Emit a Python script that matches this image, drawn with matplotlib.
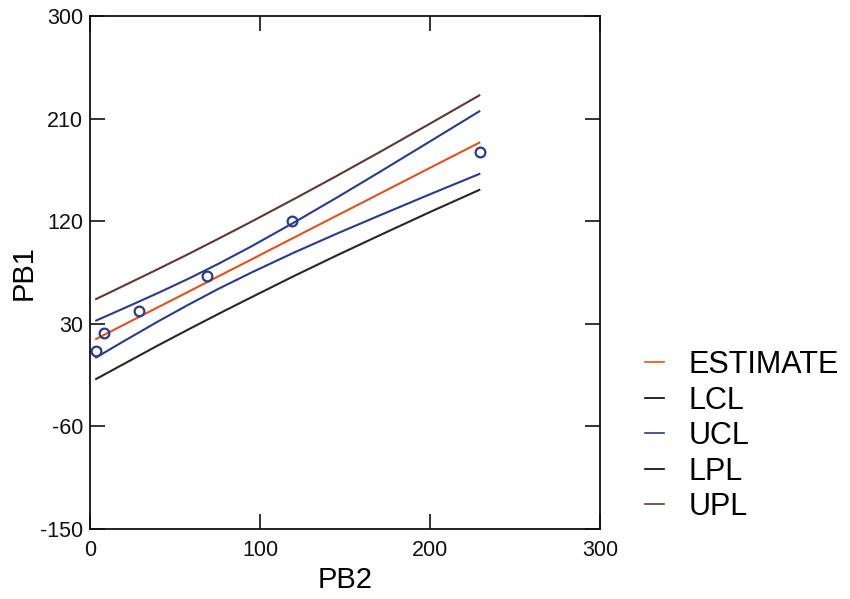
import matplotlib
matplotlib.use("Agg")
import matplotlib.pyplot as plt
from matplotlib.lines import Line2D

plt.rcParams['font.family'] = ['Liberation Sans', 'DejaVu Sans']
plt.rcParams['axes.unicode_minus'] = False

# observed pairs
pb2 = [3.5, 8.2, 28.8, 68.8, 118.8, 229.4]
pb1 = [6.0, 21.7, 41.0, 71.7, 120.8, 181.2]

# fitted line with confidence / prediction limits, sampled along PB2
fit_x = [3.6, 20, 40, 58, 76, 95, 120, 145, 170, 200, 229]
estimate = [16.8, 29.4, 44.7, 58.4, 72.2, 86.7, 105.9, 125.0, 144.1, 167.1, 189.2]
ucl = [33.0, 43.8, 57.2, 69.8, 83.2, 98.2, 119.1, 140.8, 163.1, 190.3, 216.7]
lcl = [0.6, 15.0, 32.2, 47.0, 61.2, 75.2, 92.7, 109.2, 125.1, 143.9, 161.7]
upl = [51.9, 63.7, 78.2, 91.5, 105.2, 119.9, 139.7, 159.9, 180.6, 205.9, 230.7]
lpl = [-18.3, -5.0, 11.2, 25.3, 39.2, 53.5, 72.1, 90.1, 107.6, 128.3, 147.7]

x_ticks = [0, 100, 200, 300]
y_ticks = [-150, -60, 30, 120, 210, 300]

c_est = '#e2521f'
c_cl = '#2a3c88'
c_upl = '#5c3a30'
c_lpl = '#2e2420'

fig = plt.figure(figsize=(8.5, 5.99), dpi=100)
ax = fig.add_axes([0.1059, 0.1169, 0.6, 0.8556])

ax.plot(fit_x, upl, color=c_upl, lw=1.5)
ax.plot(fit_x, ucl, color=c_cl, lw=1.5)
ax.plot(fit_x, estimate, color=c_est, lw=1.5)
ax.plot(fit_x, lcl, color=c_cl, lw=1.5)
ax.plot(fit_x, lpl, color=c_lpl, lw=1.5)
ax.plot(pb2, pb1, 'o', ms=7, mfc='none', mec=c_cl, mew=1.6)

ax.set_xlim(0, 300)
ax.set_ylim(-150, 300)
ax.set_xticks(x_ticks)
ax.set_yticks(y_ticks)
ax.tick_params(direction='in', length=11, width=1.2, top=True, right=True,
               labelsize=15.5, colors='#111111')
ax.tick_params(axis='x', pad=8)
ax.tick_params(axis='y', pad=5)
for s in ax.spines.values():
    s.set_linewidth(1.3)
    s.set_color('#111111')

ax.set_xlabel('PB2', fontsize=21)
ax.set_ylabel('PB1', fontsize=21)
ax.xaxis.set_label_coords(0.5, -0.072)
ax.yaxis.set_label_coords(-0.102, 0.5)

handles = [
    Line2D([], [], color=c_est, lw=1.2),
    Line2D([], [], color='black', lw=1.2),
    Line2D([], [], color=c_cl, lw=1.2),
    Line2D([], [], color='black', lw=1.2),
    Line2D([], [], color=c_upl, lw=1.2),
]
labels = ['ESTIMATE', 'LCL', 'UCL', 'LPL', 'UPL']
fig.legend(handles, labels, loc='center left', bbox_to_anchor=(0.745, 0.272),
           frameon=False, fontsize=22, handlelength=0.6, handletextpad=0.8,
           labelspacing=0.18, borderaxespad=0)

fig.savefig('out.png', dpi=100)
